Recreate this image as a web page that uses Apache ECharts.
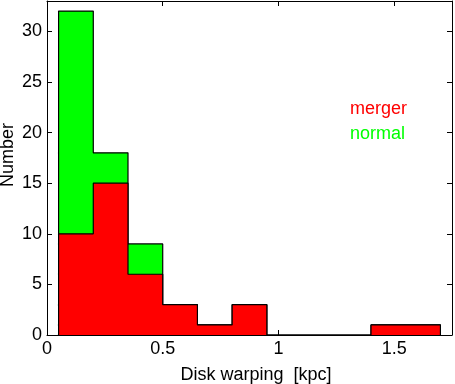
<!DOCTYPE html>
<html>
<head>
	<meta charset="utf-8">
	<title>Disk warping histogram</title>
	<script src="https://cdn.jsdelivr.net/npm/echarts@6/dist/echarts.min.js"></script>
	<style type="text/css">
		html, body { margin: 0; padding: 0; background: #ffffff; }
		#chart { width: 455px; height: 384px; }
	</style>
</head>
<body>
	<div id="chart"></div>
	<script type="text/javascript">
		// bin left edges (kpc), last right edge
		var binEdges = [0.05, 0.2, 0.35, 0.5, 0.65, 0.8, 0.95, 1.1, 1.25, 1.4, 1.55];
		var lastEdge = 1.7;
		var mergerCounts = [10, 15, 6, 3, 1, 3, 0, 0, 0, 1, 1];
		var normalCounts = [22, 3, 3, 0, 0, 0, 0, 0, 0, 0, 0];
		var xTicks = [0, 0.5, 1, 1.5];
		var yTicks = [0, 5, 10, 15, 20, 25, 30];

		// stairs outline: start on baseline, step at bin end, close on baseline
		function stairs(counts){
			var pts = [[binEdges[0], 0]];
			for(var i = 0; i < counts.length; i++){
				pts.push([binEdges[i], counts[i]]);
			}
			pts.push([lastEdge, 0]);
			return pts;
		}
		var totalCounts = mergerCounts.map(function(v, i){ return v + normalCounts[i]; });

		var fontName = 'Liberation Sans, Arial, sans-serif';
		var tickFmt = function(list){
			return function(v){ return list.indexOf(+v.toFixed(2)) >= 0 ? String(v) : ''; };
		};

		var myChart = echarts.init(document.getElementById('chart'));
		var axisCommon = {
			axisLine: { show: true, onZero: false, lineStyle: { color: '#000', width: 1 } },
			axisTick: { show: true, inside: true, length: 5, lineStyle: { color: '#000' } },
			splitLine: { show: false }
		};
		var option = {
			animation: false,
			backgroundColor: '#ffffff',
			grid: { left: 47, top: 1, right: 2, bottom: 49 },
			xAxis: [
				echarts.util.merge({
					type: 'value', min: 0, max: 1.75, interval: 0.5, position: 'bottom',
					axisLabel: { margin: 5, color: '#000', fontSize: 18, fontFamily: fontName, formatter: tickFmt(xTicks) }
				}, axisCommon),
				echarts.util.merge({
					type: 'value', min: 0, max: 1.75, interval: 0.5, position: 'top',
					axisLabel: { show: false }
				}, axisCommon)
			],
			yAxis: [
				echarts.util.merge({
					type: 'value', min: 0, max: 33, interval: 5, position: 'left',
					axisLabel: { margin: 5, color: '#000', fontSize: 18, fontFamily: fontName, formatter: tickFmt(yTicks) }
				}, axisCommon),
				echarts.util.merge({
					type: 'value', min: 0, max: 33, interval: 5, position: 'right',
					axisLabel: { show: false }
				}, axisCommon)
			],
			series: [
				{
					name: 'normal',
					type: 'line',
					step: 'end',
					data: stairs(totalCounts),
					showSymbol: false,
					lineStyle: { color: '#000', width: 1.2 },
					areaStyle: { color: '#00ff00', opacity: 1 },
					z: 2
				},
				{
					name: 'merger',
					type: 'line',
					step: 'end',
					data: stairs(mergerCounts),
					showSymbol: false,
					lineStyle: { color: '#000', width: 1.2 },
					areaStyle: { color: '#ff0000', opacity: 1 },
					z: 3
				}
			],
			graphic: [
				{ type: 'text', left: 350, top: 100,
				  style: { text: 'merger', fill: '#ff0000', font: '18px ' + fontName } },
				{ type: 'text', left: 350, top: 125,
				  style: { text: 'normal', fill: '#00ff00', font: '18px ' + fontName } },
				{ type: 'text', x: 256, y: 375,
				  style: { text: 'Disk warping  [kpc]', fill: '#000', font: '18px ' + fontName, align: 'center', verticalAlign: 'middle' } },
				{ type: 'text', x: 8, y: 155, rotation: Math.PI / 2,
				  style: { text: 'Number', fill: '#000', font: '18px ' + fontName, align: 'center', verticalAlign: 'middle' } }
			]
		};
		myChart.setOption(option);
	</script>
</body>
</html>
